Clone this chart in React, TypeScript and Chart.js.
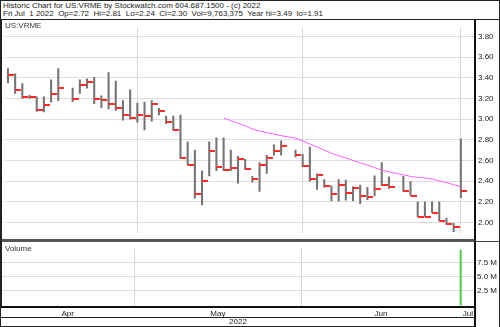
import React, { useEffect, useRef } from 'react';
import { Chart, registerables } from 'chart.js';

Chart.register(...registerables);

// ---- data (one slot per weekday, null = market holiday) ----
const dates = [
  'Apr 5', 'Apr 6', 'Apr 7', 'Apr 8', 'Apr 11', 'Apr 12', 'Apr 13', 'Apr 14', 'Apr 15', 'Apr 18',
  'Apr 19', 'Apr 20', 'Apr 21', 'Apr 22', 'Apr 25', 'Apr 26', 'Apr 27', 'Apr 28', 'Apr 29', 'May 2',
  'May 3', 'May 4', 'May 5', 'May 6', 'May 9', 'May 10', 'May 11', 'May 12', 'May 13', 'May 16',
  'May 17', 'May 18', 'May 19', 'May 20', 'May 23', 'May 24', 'May 25', 'May 26', 'May 27', 'May 30',
  'May 31', 'Jun 1', 'Jun 2', 'Jun 3', 'Jun 6', 'Jun 7', 'Jun 8', 'Jun 9', 'Jun 10', 'Jun 13',
  'Jun 14', 'Jun 15', 'Jun 16', 'Jun 17', 'Jun 20', 'Jun 21', 'Jun 22', 'Jun 23', 'Jun 24', 'Jun 27',
  'Jun 28', 'Jun 29', 'Jun 30', 'Jul 1',
];

const highs = [
  3.49, 3.44, 3.345, 3.23, 3.215, 3.215, 3.38, 3.49, null, 3.30,
  3.38, 3.39, 3.405, 3.225, 3.45, 3.37, 3.18, 3.285, 3.155, 3.165,
  3.18, 3.105, 3.03, 3.03, 3.04, 2.78, 2.70, 2.50, 2.78, 2.82,
  2.82, 2.70, 2.64, 2.61, 2.445, 2.58, 2.65, 2.75, 2.79, null,
  2.70, 2.66, 2.73, 2.47, 2.415, 2.355, 2.415, 2.41, 2.345, 2.36,
  2.34, 2.45, 2.58, 2.44, null, 2.445, 2.395, 2.20, 2.20, 2.20,
  2.20, 2.04, 1.99, 2.81,
];

const lows = [
  3.35, 3.25, 3.20, 3.20, 3.075, 3.07, 3.165, 3.18, null, 3.17,
  3.25, 3.30, 3.15, 3.11, 3.10, 3.085, 2.99, 3.00, 2.97, 2.895,
  2.98, 3.04, 2.955, 2.89, 2.62, 2.56, 2.235, 2.17, 2.45, 2.50,
  2.50, 2.50, 2.38, 2.51, 2.39, 2.30, 2.475, 2.65, 2.65, null,
  2.635, 2.54, 2.40, 2.32, 2.34, 2.21, 2.205, 2.215, 2.21, 2.18,
  2.22, 2.255, 2.355, 2.33, null, 2.30, 2.26, 2.055, 2.055, 2.095,
  2.015, 1.98, 1.91, 2.24,
];

const closes = [
  3.43, 3.28, 3.21, 3.21, 3.09, 3.14, 3.24, 3.30, null, 3.20,
  3.33, 3.36, 3.195, 3.19, 3.15, 3.11, 3.045, 3.01, 3.04, 3.03,
  3.15, 3.075, 2.97, 2.895, 2.625, 2.56, 2.27, 2.40, 2.69, 2.54,
  2.51, 2.53, 2.61, 2.52, 2.42, 2.56, 2.625, 2.695, 2.74, null,
  2.65, 2.55, 2.42, 2.46, 2.35, 2.27, 2.36, 2.28, 2.335, 2.26,
  2.25, 2.32, 2.36, 2.34, null, 2.30, 2.26, 2.055, 2.055, 2.095,
  2.015, 1.985, 1.955, 2.30,
];

const movingAvg = [
  null, null, null, null, null, null, null, null, null, null,
  null, null, null, null, null, null, null, null, null, null,
  null, null, null, null, null, null, null, null, null, null,
  3.01, 2.985, 2.96, 2.935, 2.905, 2.885, 2.87, 2.855, 2.84, null,
  2.815, 2.79, 2.76, 2.73, 2.70, 2.67, 2.645, 2.625, 2.60, 2.575,
  2.555, 2.53, 2.505, 2.49, null, 2.46, 2.445, 2.435, 2.43, 2.42,
  2.40, 2.385, 2.365, 2.345,
];

// Only the last session's volume is visible at this scale
const volumes = [
  null, null, null, null, null, null, null, null, null, null,
  null, null, null, null, null, null, null, null, null, null,
  null, null, null, null, null, null, null, null, null, null,
  null, null, null, null, null, null, null, null, null, null,
  null, null, null, null, null, null, null, null, null, null,
  null, null, null, null, null, null, null, null, null, null,
  null, null, null, 9763375,
];

const priceTicks = [3.8, 3.7, 3.6, 3.5, 3.4, 3.3, 3.2, 3.1, 3.0, 2.9, 2.8, 2.7, 2.6, 2.5, 2.4, 2.3, 2.2, 2.1, 2.0];
const volumeTicks = [2500000, 5000000, 7500000];
const monthNames = ['Apr', 'May', 'Jun', 'Jul'];
const monthBoundaries = [18, 41, 63];

const headerLine1 = 'Historic Chart for US:VRME by Stockwatch.com 604.687.1500 - (c) 2022';
const headerLine2 = 'Fri Jul  1 2022  Op=2.72  Hi=2.81  Lo=2.24  Cl=2.30  Vol=9,763,375  Year hi=3.49  lo=1.91';

const FONT = '"Liberation Sans", Arial, sans-serif';
const X_MIN = -0.41;
const X_MAX = 64.97;

export default function App() {
  const priceRef = useRef<HTMLCanvasElement>(null);
  const volRef = useRef<HTMLCanvasElement>(null);

  useEffect(() => {
    document.body.style.margin = '0';

    const tickImg = document.createElement('canvas');
    tickImg.width = 12;
    tickImg.height = 2;
    const tctx = tickImg.getContext('2d')!;
    tctx.fillStyle = '#ff2a2a';
    tctx.fillRect(6, 0, 6, 2);

    const rangeData: any[] = [];
    const closeData: any[] = [];
    const maData: any[] = [];
    const volData: any[] = [];
    dates.forEach((_, i) => {
      if (highs[i] != null && lows[i] != null) rangeData.push({ x: i, y: [lows[i], highs[i]] });
      if (closes[i] != null) closeData.push({ x: i, y: closes[i] });
      if (movingAvg[i] != null) maData.push({ x: i, y: movingAvg[i] });
      if (volumes[i] != null) volData.push({ x: i, y: volumes[i] });
    });

    const price = new Chart(priceRef.current!, {
      type: 'bar',
      data: {
        datasets: [
          {
            type: 'line',
            data: maData,
            borderColor: '#ff5cff',
            borderWidth: 1,
            pointRadius: 0,
            fill: false,
            order: 0,
          } as any,
          {
            type: 'scatter',
            data: closeData,
            pointStyle: tickImg,
            pointRadius: 3,
            order: 1,
          } as any,
          {
            type: 'bar',
            data: rangeData,
            backgroundColor: '#747474',
            barThickness: 1.4,
            maxBarThickness: 1.4,
            order: 2,
          } as any,
        ],
      },
      options: {
        animation: false,
        responsive: false,
        devicePixelRatio: 1,
        layout: { padding: { left: 1, right: 0, top: 0, bottom: 0 } },
        plugins: { legend: { display: false }, tooltip: { enabled: false } },
        scales: {
          x: {
            type: 'linear',
            offset: false,
            bounds: 'data',
            min: X_MIN,
            max: X_MAX,
            afterBuildTicks: (a: any) => { a.ticks = monthBoundaries.map((v) => ({ value: v })); },
            afterFit: (a: any) => { a.height = 0; },
            ticks: { display: false },
            grid: { color: '#d6d6d6', drawTicks: false, offset: false },
            border: { display: false },
          },
          y: {
            position: 'right',
            min: 1.895,
            max: 3.885,
            afterBuildTicks: (a: any) => { a.ticks = priceTicks.map((v) => ({ value: v })); },
            afterFit: (a: any) => { a.width = 25; },
            ticks: {
              callback: (v: any) => Number(v).toFixed(2),
              color: '#222',
              font: { size: 8, family: FONT },
              padding: 3,
            },
            grid: { color: '#dedede', drawTicks: false },
            border: { display: false },
          },
        },
      } as any,
    });

    const edges = [X_MIN, ...monthBoundaries, X_MAX];
    const mids = monthNames.map((_, i) => (edges[i] + edges[i + 1]) / 2);
    const xTicks = [
      ...monthBoundaries.map((v) => ({ value: v, kind: 'b', name: '' })),
      ...mids.map((v, i) => ({ value: v, kind: 'm', name: monthNames[i] })),
    ].sort((a, b) => a.value - b.value);

    const vol = new Chart(volRef.current!, {
      type: 'bar',
      data: {
        datasets: [
          {
            data: volData,
            backgroundColor: '#5ccc5c',
            barThickness: 1.5,
            maxBarThickness: 1.5,
          } as any,
        ],
      },
      options: {
        animation: false,
        responsive: false,
        devicePixelRatio: 1,
        layout: { padding: { left: 1, right: 0, top: 0, bottom: 0 } },
        plugins: { legend: { display: false }, tooltip: { enabled: false } },
        scales: {
          x: {
            type: 'linear',
            offset: false,
            bounds: 'data',
            min: X_MIN,
            max: X_MAX,
            afterBuildTicks: (a: any) => { a.ticks = xTicks.map((t) => ({ value: t.value })); },
            afterFit: (a: any) => { a.height = 21; a.paddingLeft = 0; a.paddingRight = 0; },
            ticks: {
              autoSkip: false,
              maxRotation: 0,
              padding: 3,
              color: '#222',
              font: { size: 8, family: FONT },
              callback: (v: any) => {
                const t = xTicks.find((k) => Math.abs(k.value - v) < 1e-6);
                return t && t.kind === 'm' ? t.name : '';
              },
            },
            grid: {
              drawTicks: false,
              offset: false,
              color: (ctx: any) => {
                const t = xTicks.find((k) => ctx.tick && Math.abs(k.value - ctx.tick.value) < 1e-6);
                return t && t.kind === 'b' ? '#d6d6d6' : 'rgba(0,0,0,0)';
              },
            },
            title: {
              display: true,
              text: '2022',
              color: '#222',
              font: { size: 8, family: FONT },
              padding: 0,
            },
            border: { display: false },
          },
          y: {
            position: 'right',
            min: -200000,
            max: 10000000,
            afterBuildTicks: (a: any) => { a.ticks = volumeTicks.map((v) => ({ value: v })); },
            afterFit: (a: any) => { a.width = 25; },
            ticks: {
              callback: (v: any) => (Number(v) / 1e6).toFixed(1) + ' M',
              color: '#222',
              font: { size: 8, family: FONT },
              padding: 2,
            },
            grid: { color: '#dedede', drawTicks: false },
            border: { display: false },
          },
        },
      } as any,
    });

    return () => {
      price.destroy();
      vol.destroy();
    };
  }, []);

  const abs = (s: React.CSSProperties): React.CSSProperties => ({
    position: 'absolute',
    boxSizing: 'border-box',
    pointerEvents: 'none',
    ...s,
  });
  const label: React.CSSProperties = {
    fontFamily: FONT,
    fontSize: 8,
    color: '#333',
    lineHeight: '9px',
    whiteSpace: 'pre',
  };

  return (
    <div style={{ position: 'relative', width: 500, height: 327, background: '#fff', overflow: 'hidden' }}>
      <canvas ref={priceRef} width={500} height={221} style={{ position: 'absolute', left: 0, top: 20, width: 500, height: 221 }} />
      <canvas ref={volRef} width={500} height={85} style={{ position: 'absolute', left: 0, top: 242, width: 500, height: 85 }} />

      {/* header box */}
      <div style={abs({ left: 0, top: 0, width: 500, height: 20, border: '1px solid #222', padding: '1px 0 0 2px' })}>
        <div style={{ ...label, color: '#222', lineHeight: '8px' }}>{headerLine1}</div>
        <div style={{ ...label, color: '#222', lineHeight: '8px' }}>{headerLine2}</div>
      </div>

      {/* price panel frame */}
      <div style={abs({ left: 0, top: 19, width: 476, height: 223, borderLeft: '2px solid #222', borderRight: '2px solid #111', borderBottom: '3px solid #555' })} />
      <div style={abs({ left: 5, top: 21, ...label })}>US:VRME</div>

      {/* volume panel frame */}
      <div style={abs({ left: 0, top: 241, width: 476, height: 67, borderLeft: '2px solid #222', borderRight: '2px solid #111', borderBottom: '2px solid #111' })} />
      <div style={abs({ left: 5, top: 244, ...label })}>Volume</div>

      {/* month and year rows */}
      <div style={abs({ left: 0, top: 306, width: 476, height: 12, borderLeft: '1px solid #222', borderRight: '2px solid #111', borderBottom: '1px solid #222' })} />
      <div style={abs({ left: 0, top: 317, width: 476, height: 10, borderLeft: '1px solid #222', borderRight: '2px solid #111', borderBottom: '1px solid #222' })} />

      {/* right column */}
      <div style={abs({ left: 476, top: 241, width: 24, height: 1, background: '#444' })} />
      <div style={abs({ left: 499, top: 19, width: 1, height: 308, background: '#222' })} />
    </div>
  );
}
